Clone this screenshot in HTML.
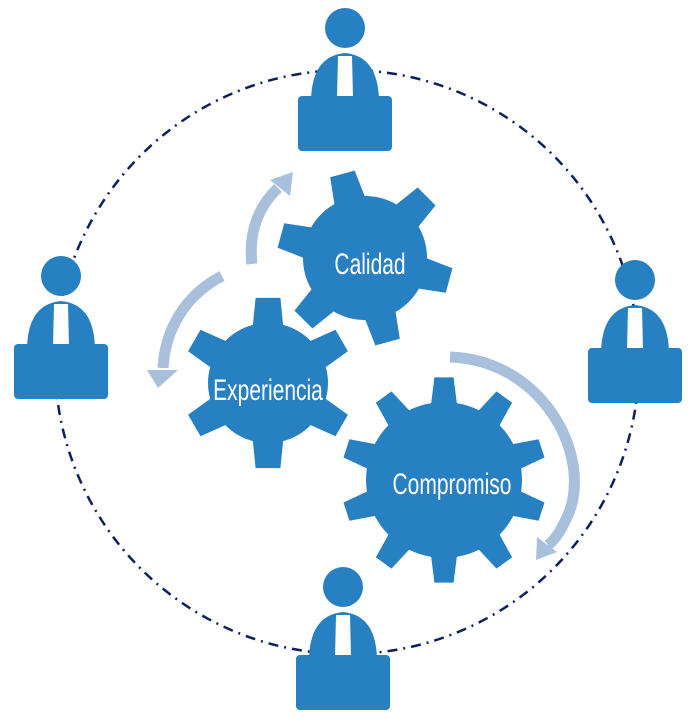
<!DOCTYPE html>
<html><head><meta charset="utf-8"><style>
html,body{margin:0;padding:0;background:#fff;width:700px;height:725px;overflow:hidden}
svg text{font-family:"Liberation Sans Narrow","Liberation Sans",sans-serif;fill:#fff}
</style></head><body>
<svg id="s" width="700" height="725" viewBox="0 0 700 725" xmlns="http://www.w3.org/2000/svg">
<ellipse cx="347" cy="362" rx="292" ry="292" fill="none" stroke="#0f1f5c" stroke-width="2.5" stroke-dasharray="10,6,2,6"/>
<g id="gears"></g>
<g fill="none" stroke="#a9c0dc" stroke-width="11">
<path d="M252,264 C248,230 260,205 278,188"/>
<path d="M222,276 C185,295 165,330 163,368"/>
<path d="M450,357 C540,360 590,450 570,510 C562,530 555,540 548,545"/>
</g>
<g fill="#a9c0dc">
<polygon points="270,180 293,172 290,196"/>
<polygon points="147,370 178,370 158,388"/>
<polygon points="537,537 557,552 536,560"/>
</g>
<g id="people" fill="#2680c2"></g>
<g>
<text x="370" y="274" font-size="30" text-anchor="middle" transform="translate(370 0) scale(0.7 1) translate(-370 0)">Calidad</text>
<text x="268" y="400" font-size="30" text-anchor="middle" transform="translate(268 0) scale(0.7 1) translate(-268 0)">Experiencia</text>
<text x="452" y="494" font-size="30" text-anchor="middle" transform="translate(452 0) scale(0.7 1) translate(-452 0)">Compromiso</text>
</g>
</svg>
<script>
function gear(cx,cy,r,R,n,off,tw){
 let d="";const step=2*Math.PI/n;
 for(let i=0;i<n;i++){
  const a=off+i*step;
  const pts=[[r,a-tw*1.5],[R,a-tw*0.85],[R,a+tw*0.85],[r,a+tw*1.5]];
  pts.forEach((p,j)=>{const x=cx+p[0]*Math.cos(p[1]),y=cy-p[0]*Math.sin(p[1]);
   d+=(i==0&&j==0?"M":(j==0?"A"+r+","+r+" 0 0 0 ":"L"))+x.toFixed(1)+","+y.toFixed(1)+" ";});
 }
 const a0=off-tw*1.5;
 d+="A"+r+","+r+" 0 0 0 "+(cx+r*Math.cos(a0)).toFixed(1)+","+(cy-r*Math.sin(a0)).toFixed(1)+"Z";
 return '<path fill="#2680c2" d="'+d+'"/>';
}
const D=Math.PI/180;
document.getElementById("gears").innerHTML=
 gear(365,258,62,88,6,105*D,0.17)+
 gear(268,383,60,86,6,90*D,0.17)+
 gear(444,480,78,103,10,90*D,0.11);
function person(x,y){
 return `<circle cx="${x}" cy="${y}" r="20"/>
 <path d="M${x-34},${y+75} C${x-34},${y+40} ${x-20},${y+27} ${x},${y+25} C${x+20},${y+27} ${x+34},${y+40} ${x+34},${y+75}Z"/>
 <polygon fill="#fff" points="${x-7},${y+28} ${x+7},${y+28} ${x+8},${y+70} ${x-8},${y+70}"/>
 <rect x="${x-47}" y="${y+68}" width="94" height="55" rx="4"/>`;
}
document.getElementById("people").innerHTML=person(345,28)+person(61,276)+person(635,280)+person(343,587);
</script>
</body></html>
